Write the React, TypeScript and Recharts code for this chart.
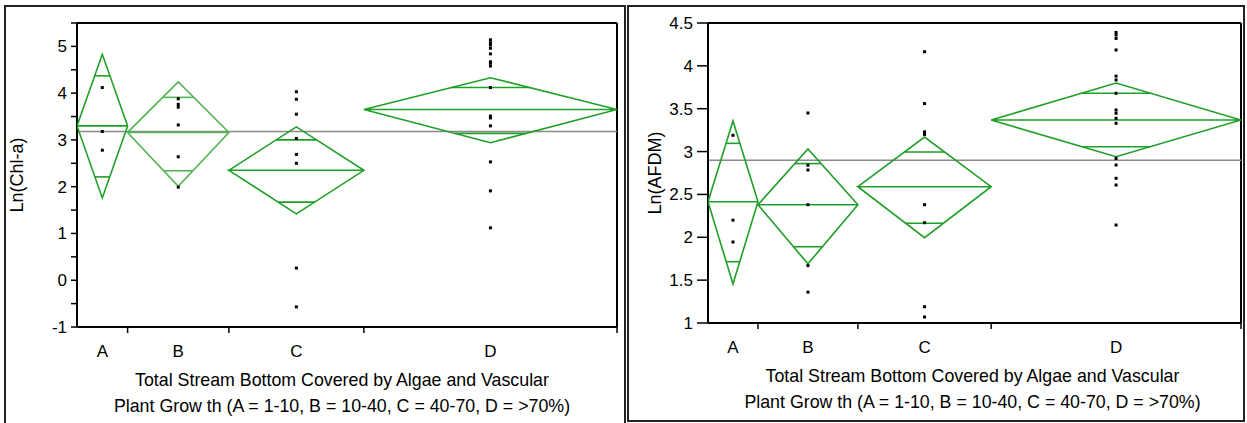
import React from 'react';
import { ComposedChart, Scatter, XAxis, YAxis, ReferenceLine, Label } from 'recharts';

const categories = ['A', 'B', 'C', 'D'];
const groupSizes = [3, 6, 8, 15];

const xTitleLine1 = 'Total Stream Bottom Covered by Algae and Vascular';
const xTitleLine2 = 'Plant Grow th (A = 1-10, B = 10-40, C = 40-70, D = >70%)';

// Left panel: Ln(Chl-a)
const chlMean = [3.3, 3.16, 2.35, 3.65];
const chlUpper = [4.83, 4.24, 3.28, 4.33];
const chlLower = [1.76, 2.01, 1.42, 2.94];
const chlOverlapHi = [4.37, 3.91, 3.0, 4.12];
const chlOverlapLo = [2.21, 2.34, 1.67, 3.14];
const chlGrandMean = 3.18;
const chlPointsA = [4.12, 3.18, 2.78];
const chlPointsB = [3.88, 3.76, 3.7, 3.32, 2.64, 1.99];
const chlPointsC = [4.03, 3.87, 3.55, 3.03, 2.69, 2.5, 0.26, -0.57];
const chlPointsD = [5.14, 5.08, 5.03, 4.96, 4.84, 4.67, 4.64, 4.58, 4.12, 3.51, 3.47, 3.3, 2.53, 1.91, 1.12];
const chlTicks = [-1, -0.5, 0, 0.5, 1, 1.5, 2, 2.5, 3, 3.5, 4, 4.5, 5, 5.5];

// Right panel: Ln(AFDM)
const afdmMean = [2.415, 2.38, 2.59, 3.368];
const afdmUpper = [3.357, 3.03, 3.17, 3.8];
const afdmLower = [1.455, 1.69, 1.995, 2.94];
const afdmOverlapHi = [3.096, 2.86, 2.995, 3.68];
const afdmOverlapLo = [1.715, 1.89, 2.163, 3.057];
const afdmGrandMean = 2.9;
const afdmPointsA = [3.19, 2.2, 1.945];
const afdmPointsB = [3.45, 2.84, 2.785, 2.38, 1.67, 1.36];
const afdmPointsC = [4.165, 3.56, 3.23, 3.2, 2.38, 2.17, 1.19, 1.07];
const afdmPointsD = [4.39, 4.36, 4.32, 4.185, 3.88, 3.835, 3.68, 3.485, 3.447, 3.388, 3.33, 2.92, 2.843, 2.688, 2.61, 2.143];
const afdmTicks = [1, 1.5, 2, 2.5, 3, 3.5, 4, 4.5];

const FONT = "'Liberation Sans', Arial, sans-serif";
const GREEN = '#1f9f27';
const GREEN_LIGHT = '#52b552';

// category boundaries derived from group sizes (JMP widths proportional to n)
const edges: number[] = groupSizes.reduce((acc: number[], n) => { acc.push(acc[acc.length - 1] + n); return acc; }, [0]);
const centers = categories.map((_, i) => (edges[i] + edges[i + 1]) / 2);
const xMax = edges[edges.length - 1];
const xTicks = [...centers, ...edges.slice(1)].sort((a, b) => a - b);

const XTick = (props: any) => {
  const { x, y, payload } = props;
  const v = payload.value;
  const idx = centers.indexOf(v);
  if (idx >= 0) {
    return (
      <text x={x} y={y + 30} textAnchor="middle" fontSize={17} fontFamily={FONT} fill="#000">
        {categories[idx]}
      </text>
    );
  }
  return <line x1={x} x2={x} y1={y} y2={y + 6} stroke="#000" strokeWidth={1.5} />;
};

type PanelProps = {
  left: number;
  width: number;
  yAxisWidth: number;
  marginRight: number;
  marginBottom: number;
  yDomain: [number, number];
  yTicks: number[];
  integerLabelsOnly: boolean;
  yTickSize: number;
  yLabel: string;
  yLabelX: number;
  means: number[];
  uppers: number[];
  lowers: number[];
  overHi: number[];
  overLo: number[];
  points: number[][];
  grand: number;
  colors: string[];
  titleShift: number;
};

const Panel = (p: PanelProps) => {
  const diamonds = categories.map((_, i) => {
    const x0 = edges[i];
    const x1 = edges[i + 1];
    const xc = centers[i];
    return [
      { x: x0, y: p.means[i] },
      { x: xc, y: p.uppers[i] },
      { x: x1, y: p.means[i] },
      { x: xc, y: p.lowers[i] },
      { x: x0, y: p.means[i] },
      { x: x1, y: p.means[i] },
    ];
  });
  const overlapSegs: { seg: { x: number; y: number }[]; color: string }[] = [];
  categories.forEach((_, i) => {
    const hw = (edges[i + 1] - edges[i]) / 2;
    const xc = centers[i];
    const m = p.means[i];
    const fHi = 1 - (p.overHi[i] - m) / (p.uppers[i] - m);
    const fLo = 1 - (m - p.overLo[i]) / (m - p.lowers[i]);
    overlapSegs.push({ seg: [{ x: xc - hw * fHi, y: p.overHi[i] }, { x: xc + hw * fHi, y: p.overHi[i] }], color: p.colors[i] });
    overlapSegs.push({ seg: [{ x: xc - hw * fLo, y: p.overLo[i] }, { x: xc + hw * fLo, y: p.overLo[i] }], color: p.colors[i] });
  });
  const dots = p.points.flatMap((arr, i) => arr.map((v) => ({ x: centers[i], y: v })));

  return (
    <div style={{ position: 'absolute', left: p.left, top: 0 }}>
      <ComposedChart
        width={p.width}
        height={423}
        margin={{ top: 23, right: p.marginRight, bottom: p.marginBottom, left: 0 }}
        style={{ fontFamily: FONT }}
      >
        <XAxis
          type="number"
          dataKey="x"
          domain={[0, xMax]}
          ticks={xTicks}
          interval={0}
          tickSize={0}
          tickMargin={0}
          tickLine={false}
          tick={<XTick />}
          axisLine={{ stroke: '#000', strokeWidth: 2 }}
          height={60}
          allowDataOverflow
        >
          <Label
            content={(props: any) => {
              const vb = props.viewBox;
              const cx = vb.x + vb.width / 2 + p.titleShift;
              return (
                <text x={cx} y={vb.y + 59} textAnchor="middle" fontSize={17.8} fontFamily={FONT} fill="#000">
                  <tspan x={cx} y={vb.y + 59}>{xTitleLine1}</tspan>
                  <tspan x={cx} y={vb.y + 85}>{xTitleLine2}</tspan>
                </text>
              );
            }}
          />
        </XAxis>
        <YAxis
          type="number"
          dataKey="y"
          domain={p.yDomain}
          ticks={p.yTicks}
          interval={0}
          width={p.yAxisWidth}
          tickSize={p.yTickSize}
          tickMargin={4}
          tickFormatter={(v: number) => (p.integerLabelsOnly ? (Number.isInteger(v) ? String(v) : '') : String(v))}
          tick={{ fill: '#000', fontSize: 17, fontFamily: FONT }}
          tickLine={{ stroke: '#000', strokeWidth: 1.5 }}
          axisLine={{ stroke: '#000', strokeWidth: 2 }}
          allowDataOverflow
        >
          <Label
            content={(props: any) => {
              const vb = props.viewBox;
              const cx = p.yLabelX;
              const cy = vb.y + vb.height / 2;
              return (
                <text
                  x={cx}
                  y={cy}
                  transform={`rotate(-90, ${cx}, ${cy})`}
                  textAnchor="middle"
                  dominantBaseline="central"
                  fontSize={18}
                  fontFamily={FONT}
                  fill="#000"
                >
                  {p.yLabel}
                </text>
              );
            }}
          />
        </YAxis>
        <ReferenceLine y={p.yDomain[1]} stroke="#000" strokeWidth={2} />
        <ReferenceLine x={xMax} stroke="#000" strokeWidth={2} />
        <ReferenceLine y={p.grand} stroke="#8a8a8a" strokeWidth={1.5} />
        {diamonds.map((d, i) => (
          <Scatter
            key={'d' + i}
            data={d}
            line={{ stroke: p.colors[i], strokeWidth: 1.6 }}
            shape={() => <g />}
            isAnimationActive={false}
            legendType="none"
          />
        ))}
        {overlapSegs.map((s, i) => (
          <ReferenceLine key={'o' + i} segment={s.seg} stroke={s.color} strokeWidth={1.6} />
        ))}
        <Scatter
          data={dots}
          isAnimationActive={false}
          legendType="none"
          shape={(sp: any) => <rect x={sp.cx - 1.5} y={sp.cy - 1.5} width={3} height={3} fill="#000" />}
        />
      </ComposedChart>
    </div>
  );
};

export default function App() {
  return (
    <div style={{ position: 'absolute', left: 0, top: 0, width: 1247, height: 423, background: '#fff', overflow: 'hidden' }}>
      <div style={{ position: 'absolute', left: 4, top: 5, width: 618, height: 440, border: '2px solid #222' }} />
      <div style={{ position: 'absolute', left: 627, top: 5, width: 614, height: 413, border: '2px solid #222' }} />
      <Panel
        left={0}
        width={630}
        yAxisWidth={77}
        marginRight={13}
        marginBottom={36}
        yDomain={[-1, 5.5]}
        yTicks={chlTicks}
        integerLabelsOnly
        yTickSize={6}
        yLabel="Ln(Chl-a)"
        yLabelX={17}
        means={chlMean}
        uppers={chlUpper}
        lowers={chlLower}
        overHi={chlOverlapHi}
        overLo={chlOverlapLo}
        points={[chlPointsA, chlPointsB, chlPointsC, chlPointsD]}
        grand={chlGrandMean}
        colors={[GREEN, GREEN_LIGHT, GREEN, GREEN]}
        titleShift={-5}
      />
      <Panel
        left={628}
        width={619}
        yAxisWidth={80}
        marginRight={6}
        marginBottom={40}
        yDomain={[1, 4.5]}
        yTicks={afdmTicks}
        integerLabelsOnly={false}
        yTickSize={11}
        yLabel="Ln(AFDM)"
        yLabelX={27}
        means={afdmMean}
        uppers={afdmUpper}
        lowers={afdmLower}
        overHi={afdmOverlapHi}
        overLo={afdmOverlapLo}
        points={[afdmPointsA, afdmPointsB, afdmPointsC, afdmPointsD]}
        grand={afdmGrandMean}
        colors={[GREEN, GREEN, GREEN, GREEN]}
        titleShift={-2}
      />
    </div>
  );
}
